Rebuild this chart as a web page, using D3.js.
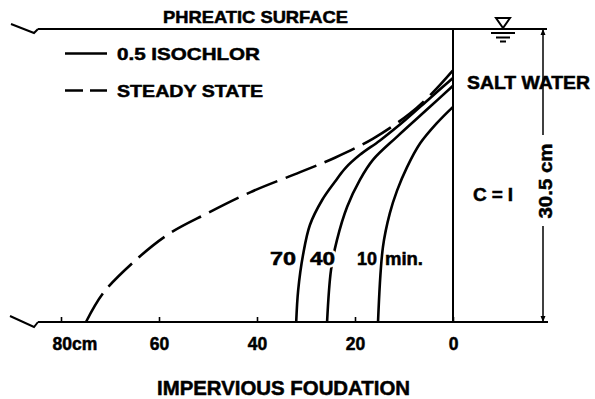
<!DOCTYPE html>
<html>
<head>
<meta charset="utf-8">
<script src="https://cdn.jsdelivr.net/npm/d3@7/dist/d3.min.js"></script>
<style>
  html, body { margin: 0; padding: 0; background: #fff; }
  svg { display: block; }
  text { font-family: "Liberation Sans", Arial, sans-serif; font-weight: 700; fill: #000; stroke: #000; stroke-width: 0.5; }
</style>
</head>
<body>
<svg id="chart" width="595" height="399"></svg>
<script>
// Distance from the salt-water face (cm) and height above the impervious base (cm)
const steadyState = [
  [74.9, 0], [71.4, 3.0], [65.5, 6.1], [58.2, 9.1], [50.2, 11.3], [41.4, 13.5],
  [31.2, 15.6], [24.1, 17.1], [16.3, 19.1], [8.8, 21.7], [4.1, 23.9], [0, 26.2]
];
const isochlor70 = [
  [32.0, 0], [31.6, 3.3], [30.6, 7.0], [29.2, 10.1], [26.7, 12.7], [24.1, 14.6],
  [22.0, 16.0], [19.0, 17.4], [14.9, 18.9], [9.8, 21.0], [4.7, 23.3], [0, 25.4]
];
const isochlor40 = [
  [25.7, 0], [24.9, 5.4], [23.7, 8.5], [21.6, 12.0], [19.0, 14.8], [16.3, 16.9],
  [11.4, 19.3], [4.7, 22.4], [0, 24.6]
];
const isochlor10 = [
  [15.3, 0], [14.3, 7.8], [12.9, 11.3], [11.4, 13.7], [9.4, 16.1], [6.7, 18.6],
  [3.3, 20.7], [0, 22.4]
];
const isochlorTimes = ["70", "40", "10"];
const xTickValues = [80, 60, 40, 20, 0];
const legendLabels = ["0.5 ISOCHLOR", "STEADY STATE"];
const depth = 30.5;

const svg = d3.select("#chart");

const x = d3.scaleLinear().domain([0, 80]).range([453, 61]);
const y = d3.scaleLinear().domain([0, depth]).range([322, 29]);

const leftEdge = 38, rightEdge = 547, dimX = 543;

// phreatic surface and impervious base, with break marks on the left
svg.append("line").attr("x1", leftEdge).attr("x2", rightEdge)
  .attr("y1", y(depth)).attr("y2", y(depth))
  .attr("stroke", "#000").attr("stroke-width", 2.2);
svg.append("line").attr("x1", leftEdge).attr("x2", rightEdge + 1)
  .attr("y1", y(0)).attr("y2", y(0))
  .attr("stroke", "#000").attr("stroke-width", 2.2);
svg.append("polyline")
  .attr("points", `11,${y(depth) - 5} 34,${y(depth) + 4} ${leftEdge},${y(depth)}`)
  .attr("fill", "none").attr("stroke", "#000").attr("stroke-width", 2);
svg.append("polyline")
  .attr("points", `10,${y(0) - 6} 34,${y(0) + 5} ${leftEdge},${y(0)}`)
  .attr("fill", "none").attr("stroke", "#000").attr("stroke-width", 2);

// salt-water face
svg.append("line").attr("x1", x(0)).attr("x2", x(0))
  .attr("y1", y(depth)).attr("y2", y(0))
  .attr("stroke", "#000").attr("stroke-width", 2);

// bottom axis ticks and labels
const axis = d3.axisBottom(x)
  .tickValues(xTickValues)
  .tickSizeInner(-5).tickSizeOuter(0)
  .tickFormat(d => d === 80 ? "80cm" : String(d));
const gAxis = svg.append("g").attr("transform", `translate(0,${y(0)})`).call(axis);
gAxis.select(".domain").remove();
gAxis.selectAll(".tick line").attr("stroke", "#000").attr("stroke-width", 1.6);
gAxis.selectAll(".tick text")
  .attr("y", 28).attr("dy", null)
  .attr("font-size", 17.5)
  .attr("font-family", null).attr("fill", "#000")
  .each(function (d) {
    if (d === 80) d3.select(this).attr("text-anchor", "start").attr("x", -9);
  });

// salt-water surface symbol
const wx = 503, wy = y(depth);
svg.append("path")
  .attr("d", `M${wx - 7},${wy - 11} L${wx + 7},${wy - 11} L${wx},${wy - 1} Z`)
  .attr("fill", "none").attr("stroke", "#000").attr("stroke-width", 2);
[[12, 4], [7, 8.5], [3, 12.5]].forEach(([hw, dy]) => {
  svg.append("line").attr("x1", wx - hw).attr("x2", wx + hw)
    .attr("y1", wy + dy).attr("y2", wy + dy)
    .attr("stroke", "#000").attr("stroke-width", 2);
});

// depth dimension line
svg.append("line").attr("x1", dimX).attr("x2", dimX)
  .attr("y1", y(depth)).attr("y2", 135).attr("stroke", "#000").attr("stroke-width", 1.5);
svg.append("line").attr("x1", dimX).attr("x2", dimX)
  .attr("y1", 226).attr("y2", y(0)).attr("stroke", "#000").attr("stroke-width", 1.5);
svg.append("path")
  .attr("d", `M${dimX - 2.5},${y(depth) + 6} L${dimX + 2.5},${y(depth) + 6} L${dimX},${y(depth)} Z`)
  .attr("fill", "#000");
svg.append("path")
  .attr("d", `M${dimX - 2.5},${y(0) - 6} L${dimX + 2.5},${y(0) - 6} L${dimX},${y(0)} Z`)
  .attr("fill", "#000");
svg.append("text")
  .attr("transform", `translate(552,181) rotate(-90)`)
  .attr("text-anchor", "middle").attr("font-size", 19)
  .attr("textLength", 75).attr("lengthAdjust", "spacingAndGlyphs")
  .text(`${depth} cm`);

// curves
const line = d3.line()
  .x(d => x(d[0])).y(d => y(d[1]))
  .curve(d3.curveCatmullRom.alpha(0.5));

svg.append("path").datum(steadyState)
  .attr("d", line).attr("fill", "none").attr("stroke", "#000")
  .attr("stroke-width", 2.6).attr("stroke-dasharray", "33,9");

[isochlor70, isochlor40, isochlor10].forEach(series => {
  svg.append("path").datum(series)
    .attr("d", line).attr("fill", "none").attr("stroke", "#000")
    .attr("stroke-width", 2.6);
});

// isochlor time labels; the "40" label knocks out its curve underneath
const labelSpecs = [
  { t: isochlorTimes[0], x0: 270, w: 26, halo: false },
  { t: isochlorTimes[1], x0: 310, w: 25, halo: true },
  { t: isochlorTimes[2], x0: 357, w: 20, halo: false }
];
labelSpecs.forEach(s => {
  if (s.halo) {
    svg.append("text")
      .attr("x", s.x0).attr("y", 265).attr("font-size", 17.5)
      .attr("textLength", s.w).attr("lengthAdjust", "spacingAndGlyphs")
      .style("fill", "#fff").style("stroke", "#fff").style("stroke-width", 5)
      .text(s.t);
  }
  svg.append("text")
    .attr("x", s.x0).attr("y", 265).attr("font-size", 17.5)
    .attr("textLength", s.w).attr("lengthAdjust", "spacingAndGlyphs")
    .text(s.t);
});
svg.append("text").attr("x", 385).attr("y", 265).attr("font-size", 17.5)
  .attr("textLength", 38).attr("lengthAdjust", "spacingAndGlyphs")
  .text("min.");

// legend
svg.append("line").attr("x1", 65).attr("x2", 107).attr("y1", 53.5).attr("y2", 53.5)
  .attr("stroke", "#000").attr("stroke-width", 2.6);
svg.append("line").attr("x1", 65).attr("x2", 107).attr("y1", 90.5).attr("y2", 90.5)
  .attr("stroke", "#000").attr("stroke-width", 2.6).attr("stroke-dasharray", "18,7");
svg.append("text").attr("x", 117).attr("y", 59.5).attr("font-size", 17)
  .attr("textLength", 143).attr("lengthAdjust", "spacingAndGlyphs")
  .text(legendLabels[0]);
svg.append("text").attr("x", 117).attr("y", 96.5).attr("font-size", 17)
  .attr("textLength", 146).attr("lengthAdjust", "spacingAndGlyphs")
  .text(legendLabels[1]);

// region annotations
svg.append("text").attr("x", 163).attr("y", 22.5).attr("font-size", 17)
  .attr("textLength", 185).attr("lengthAdjust", "spacingAndGlyphs")
  .text("PHREATIC SURFACE");
svg.append("text").attr("x", 467).attr("y", 88.5).attr("font-size", 18)
  .attr("textLength", 123).attr("lengthAdjust", "spacingAndGlyphs")
  .text("SALT WATER");
svg.append("text").attr("x", 473).attr("y", 200.5).attr("font-size", 19)
  .attr("textLength", 40).attr("lengthAdjust", "spacing")
  .text("C = I");
svg.append("text").attr("x", 157).attr("y", 395).attr("font-size", 20)
  .attr("textLength", 253).attr("lengthAdjust", "spacingAndGlyphs")
  .text("IMPERVIOUS FOUDATION");
</script>
</body>
</html>
